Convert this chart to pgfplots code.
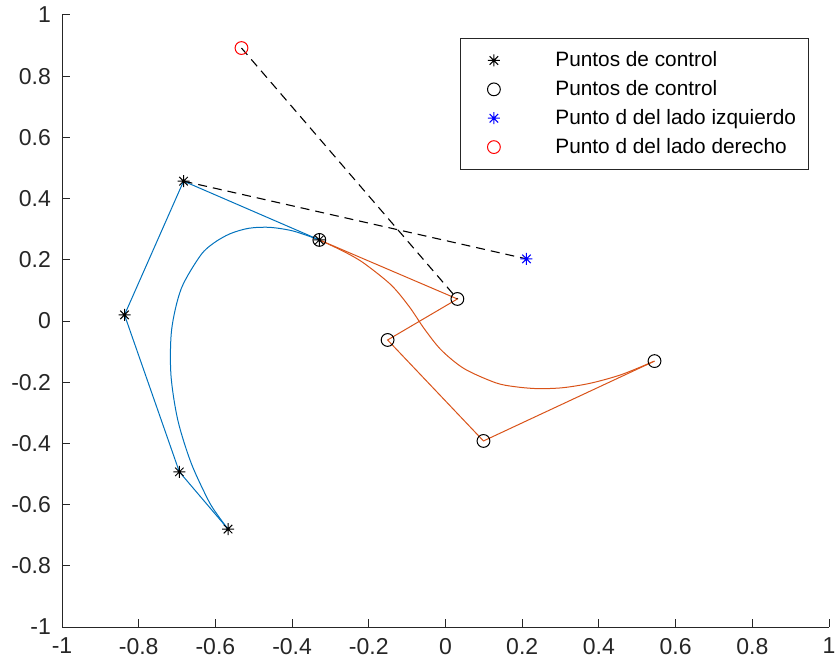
\documentclass[border=0pt]{standalone}
\usepackage{fontspec}
\setmainfont{Liberation Sans}
\usepackage{pgfplots}
\pgfplotsset{compat=1.18}
\definecolor{mblue}{rgb}{0,0.447,0.741}
\definecolor{morange}{rgb}{0.85,0.325,0.098}
\definecolor{axgray}{rgb}{0.15,0.15,0.15}
\pgfdeclareplotmark{mast}{%
 \pgfpathmoveto{\pgfqpoint{0pt}{\pgfplotmarksize}}\pgfpathlineto{\pgfqpoint{0pt}{-\pgfplotmarksize}}%
 \pgfpathmoveto{\pgfqpoint{\pgfplotmarksize}{0pt}}\pgfpathlineto{\pgfqpoint{-\pgfplotmarksize}{0pt}}%
 \pgfpathmoveto{\pgfqpoint{.7071\pgfplotmarksize}{.7071\pgfplotmarksize}}\pgfpathlineto{\pgfqpoint{-.7071\pgfplotmarksize}{-.7071\pgfplotmarksize}}%
 \pgfpathmoveto{\pgfqpoint{.7071\pgfplotmarksize}{-.7071\pgfplotmarksize}}\pgfpathlineto{\pgfqpoint{-.7071\pgfplotmarksize}{.7071\pgfplotmarksize}}%
 \pgfusepathqstroke}
\begin{document}
\begin{tikzpicture}
\begin{axis}[
  scale only axis,
  width=383.5pt, height=306pt,
  xmin=-1, xmax=1, ymin=-1, ymax=1,
  axis x line*=bottom, axis y line*=left,
  axis line style={axgray, line width=0.5pt},
  xtick={-1,-0.8,...,1}, ytick={-1,-0.8,...,1},
  tick align=inside, major tick length=4pt,
  tick style={axgray, line width=0.5pt},
  /pgf/number format/assume math mode=true,
  ticklabel style={font=\fontsize{11.5}{13}\selectfont, text=axgray},
  xticklabel style={yshift=-2pt},
  yticklabel style={xshift=-2pt},
  legend style={at={(axis cs:0.949,0.925)}, anchor=north east,
    draw=axgray, line width=0.5pt, fill=white,
    font=\fontsize{10.4}{12}\selectfont,
    row sep=1.4pt, inner xsep=4.5pt, inner ysep=4.5pt},
  legend cell align=left,
  legend image code/.code={\draw[#1] plot coordinates {(12pt,0pt)}; \path (0pt,0pt) (40.5pt,0pt);},
]
\coordinate (sw) at (rel axis cs:0,0);
\coordinate (ne) at (rel axis cs:1,1);
% control polygons and curves (no legend)
\addplot[forget plot, mblue, line width=0.5pt] coordinates {
 (-0.567,-0.680) (-0.694,-0.493) (-0.837,0.020) (-0.683,0.457) (-0.329,0.265)};
\addplot[forget plot, mblue, line width=0.5pt, smooth] coordinates {
 (-0.567,-0.680) (-0.592,-0.638) (-0.618,-0.587) (-0.663,-0.465) (-0.698,-0.324)
 (-0.716,-0.175) (-0.714,-0.027) (-0.689,0.106) (-0.639,0.214) (-0.604,0.255)
 (-0.562,0.285) (-0.513,0.303) (-0.458,0.306) (-0.397,0.294) (-0.329,0.265)};
\addplot[forget plot, morange, line width=0.5pt] coordinates {
 (-0.329,0.265) (0.031,0.072) (-0.151,-0.062) (0.099,-0.392) (0.545,-0.131)};
\addplot[forget plot, morange, line width=0.5pt, smooth] coordinates {
 (-0.329,0.265) (-0.265,0.227) (-0.214,0.190) (-0.142,0.118) (-0.094,0.046)
 (-0.055,-0.026) (-0.011,-0.095) (0.049,-0.156) (0.131,-0.202) (0.183,-0.215)
 (0.241,-0.221) (0.306,-0.218) (0.379,-0.203) (0.459,-0.175) (0.545,-0.131)};
\addplot[forget plot, black, line width=0.55pt, dash pattern=on 4.5pt off 3pt] coordinates {
 (-0.683,0.457) (0.211,0.203)};
\addplot[forget plot, black, line width=0.55pt, dash pattern=on 4.5pt off 3pt] coordinates {
 (-0.532,0.892) (0.031,0.072)};
% marks
\addplot[only marks, mark=mast, mark size=3pt, black, line width=0.5pt] coordinates {
 (-0.567,-0.680) (-0.694,-0.493) (-0.837,0.020) (-0.683,0.457) (-0.329,0.265)};
\addlegendentry{Puntos de control}
\addplot[only marks, mark=o, mark size=3.2pt, black, line width=0.5pt] coordinates {
 (-0.329,0.265) (0.031,0.072) (-0.151,-0.062) (0.099,-0.392) (0.545,-0.131)};
\addlegendentry{Puntos de control}
\addplot[only marks, mark=mast, mark size=3pt, blue, line width=0.5pt] coordinates {
 (0.211,0.203)};
\addlegendentry{Punto d del lado izquierdo}
\addplot[only marks, mark=o, mark size=3.2pt, red, line width=0.5pt] coordinates {
 (-0.532,0.892)};
\addlegendentry{Punto d del lado derecho}
\end{axis}
\pgfresetboundingbox
\path ([shift={(-31pt,-18.5pt)}]sw) rectangle ([shift={(5pt,7.5pt)}]ne);
\end{tikzpicture}
\end{document}
